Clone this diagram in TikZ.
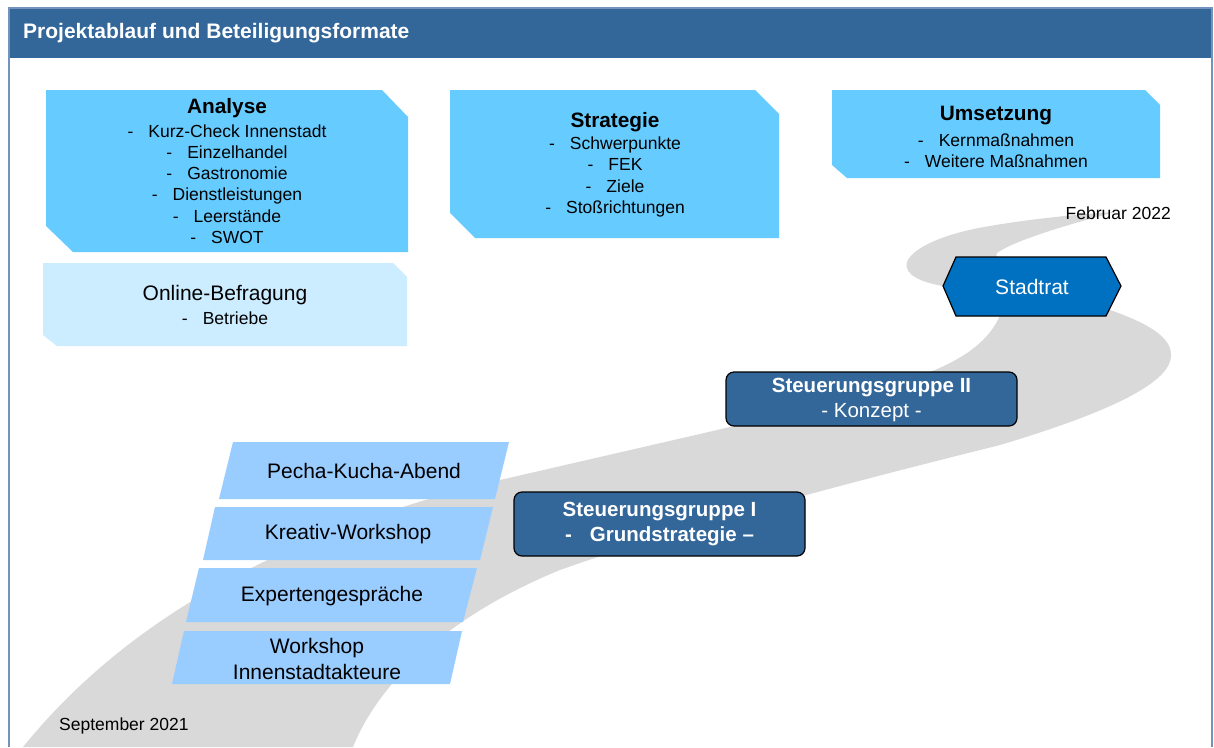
\documentclass[tikz,border=0pt]{standalone}
\usepackage{fontspec}
\setmainfont{Liberation Sans}
\definecolor{hdr}{HTML}{336699}
\definecolor{boxA}{HTML}{66CCFF}
\definecolor{boxB}{HTML}{CCECFF}
\definecolor{para}{HTML}{99CCFF}
\definecolor{sgc}{HTML}{336699}
\definecolor{stadt}{HTML}{0070C0}
\definecolor{road}{HTML}{D9D9D9}
\definecolor{frame}{HTML}{7393BC}
\newcommand{\itm}[1]{-\hspace{15pt}#1}
\tikzset{
  itemtxt/.style={align=center, inner sep=0pt, font=\fontsize{17.5}{21.2}\selectfont},
  titletxt/.style={inner sep=0pt, font=\bfseries\fontsize{20.8}{24}\selectfont},
  paratxt/.style={align=center, inner sep=0pt, font=\fontsize{21}{25}\selectfont},
  sgbox/.style={draw=black, line width=1.2pt, fill=sgc, rounded corners=8pt},
  sgtxt/.style={align=center, inner sep=0pt, text=white, font=\fontsize{20.5}{24.5}\selectfont},
  datetxt/.style={inner sep=0pt, font=\fontsize{17.5}{21}\selectfont}
}
\begin{document}
\begin{tikzpicture}[x=1pt,y=-1pt]
\useasboundingbox (0,0) rectangle (1214,747);
\fill[white] (0,0) rectangle (1214,747);
% road
\fill[road] (23,747)
  .. controls (110,640) and (250,540) .. (500,480)
  .. controls (600,457) and (700,434) .. (730,427)
  .. controls (800,410) and (890,384) .. (930,372)
  .. controls (965,358) and (990,340) .. (1000,315)
  .. controls (1005,295) and (975,290) .. (943,286)
  .. controls (925,283) and (903,276) .. (907,262)
  .. controls (912,248) and (945,233) .. (990,226)
  .. controls (1030,219) and (1080,214) .. (1115,212)
  .. controls (1070,224) and (1015,240) .. (997,253)
  .. controls (990,262) and (1040,288) .. (1110,310)
  .. controls (1150,324) and (1172,338) .. (1171,356)
  .. controls (1170,385) and (1100,415) .. (1000,445)
  .. controls (900,470) and (700,520) .. (560,570)
  .. controls (450,615) and (380,680) .. (353,747)
  -- cycle;
% frame and header
\fill[hdr] (9,8) rectangle (1212,58);
\draw[frame, line width=1.2pt] (9,747) -- (9,8) -- (1212,8) -- (1212,747);
\node[anchor=west, inner sep=0pt, text=white, font=\bfseries\fontsize{21}{25}\selectfont] (title) at (23,33) {Projektablauf und Beteiligungsformate};
% Analyse
\fill[boxA] (46,90) -- (382,90) -- (408,117) -- (408,252) -- (73,252) -- (46,226) -- cycle;
\node[titletxt] (analyse) at (227,108) {Analyse};
\node[itemtxt] (analyseitems) at (227,184) {\itm{Kurz-Check Innenstadt}\\\itm{Einzelhandel}\\\itm{Gastronomie}\\\itm{Dienstleistungen}\\\itm{Leerstände}\\\itm{SWOT}};
% Online-Befragung
\fill[boxB] (43,263) -- (393,263) -- (407,277) -- (407,346) -- (57,346) -- (43,335) -- cycle;
\node[paratxt] (online) at (225,295) {Online-Befragung};
\node[itemtxt] (onlineitems) at (225,318) {\itm{Betriebe}};
% Strategie
\fill[boxA] (450,90) -- (755,90) -- (779,114) -- (779,238) -- (475,238) -- (450,213) -- cycle;
\node[titletxt] (strategie) at (615,122) {Strategie};
\node[itemtxt] (strategieitems) at (615,177) {\itm{Schwerpunkte}\\\itm{FEK}\\\itm{Ziele}\\\itm{Stoßrichtungen}};
% Umsetzung
\fill[boxA] (832,90) -- (1145,90) -- (1160,105) -- (1160,178) -- (847,178) -- (832,165) -- cycle;
\node[titletxt] (umsetzung) at (996,116) {Umsetzung};
\node[itemtxt] (umsetzungitems) at (996,150.5) {\itm{Kernmaßnahmen}\\\itm{Weitere Maßnahmen}};
% dates
\node[datetxt, anchor=east] (feb) at (1171,213) {Februar 2022};
\node[datetxt, anchor=west] (sep) at (59,726) {September 2021};
% Stadtrat
\filldraw[fill=stadt, draw=black, line width=1.2pt] (943,286) -- (956,257) -- (1106,257) -- (1121,286) -- (1106,316) -- (956,316) -- cycle;
\node[paratxt, text=white] (stadtrat) at (1032,287) {Stadtrat};
% Steuerungsgruppen
\draw[sgbox] (726,372) rectangle (1017,426);
\node[sgtxt] (sg2) at (871.5,400) {\textbf{Steuerungsgruppe II}\\- Konzept -};
\draw[sgbox] (514,492) rectangle (805,556);
\node[sgtxt, font=\bfseries\fontsize{20.5}{25}\selectfont] (sg1) at (659.5,524.5) {Steuerungsgruppe I\\-\hspace{18pt}Grundstrategie –};
% parallelograms
\fill[para] (233,442) -- (509,442) -- (495,499) -- (219,499) -- cycle;
\node[paratxt] (pecha) at (364,471) {Pecha-Kucha-Abend};
\fill[para] (215,507) -- (493,507) -- (480,560) -- (203,560) -- cycle;
\node[paratxt] (kreativ) at (348,534) {Kreativ-Workshop};
\fill[para] (199,568) -- (477,568) -- (463,622) -- (186,622) -- cycle;
\node[paratxt] (experten) at (332,596) {Expertengespräche};
\fill[para] (184,631) -- (462,631) -- (450,684) -- (172,684) -- cycle;
\node[paratxt, font=\fontsize{21}{25.5}\selectfont] (workshop) at (317,659) {Workshop\\Innenstadtakteure};
\end{tikzpicture}
\end{document}
